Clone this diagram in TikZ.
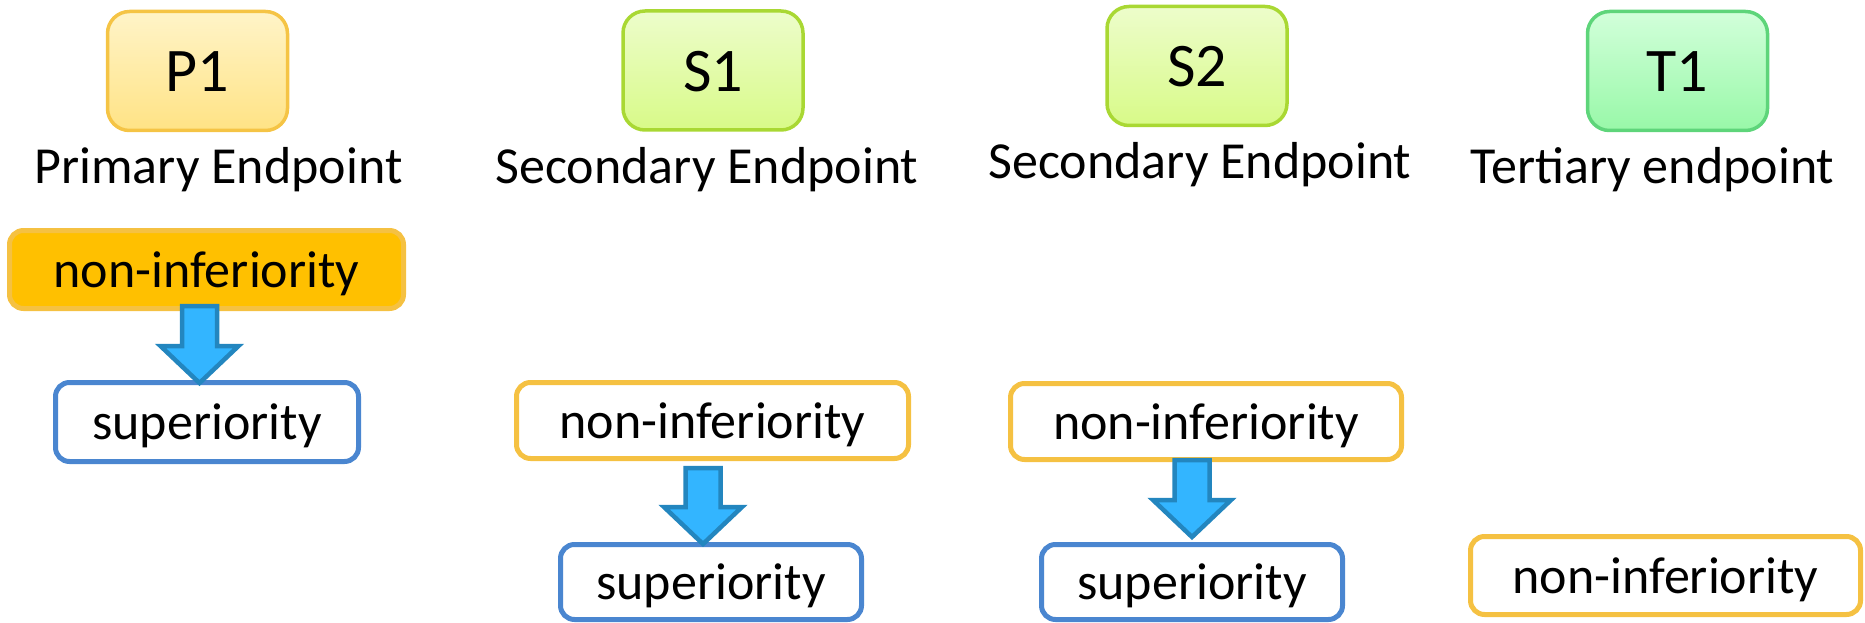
\documentclass[tikz,border=0pt]{standalone}
\usepackage{fontspec}
\setmainfont{Carlito}
\usetikzlibrary{calc}

% palette
\definecolor{pTop}{HTML}{FFF4C8}
\definecolor{pBot}{HTML}{FFE385}
\definecolor{pLine}{HTML}{F5C445}
\definecolor{sTop}{HTML}{EDFDCB}
\definecolor{sBot}{HTML}{D8FA88}
\definecolor{sLine}{HTML}{A9D833}
\definecolor{tTop}{HTML}{D2FFDA}
\definecolor{tBot}{HTML}{98F8A8}
\definecolor{tLine}{HTML}{5ED57A}
\definecolor{niLine}{HTML}{F5C142}
\definecolor{niFill}{HTML}{FFC000}
\definecolor{supLine}{HTML}{4A86D0}
\definecolor{arrFill}{HTML}{33B5FF}
\definecolor{arrLine}{HTML}{2386BF}

\tikzset{
  endbox/.style={rounded corners=22pt, line width=3.5pt, inner sep=0pt,
    minimum width=180pt, minimum height=119pt,
    font=\fontsize{62}{70}\selectfont, text height=42pt, text depth=0pt},
  pbox/.style={endbox, draw=pLine, top color=pTop, bottom color=pBot},
  sbox/.style={endbox, draw=sLine, top color=sTop, bottom color=sBot},
  tbox/.style={endbox, draw=tLine, top color=tTop, bottom color=tBot},
  caption/.style={anchor=base, inner sep=0pt, font=\fontsize{52}{60}\selectfont},
  testbox/.style={rounded corners=14pt, line width=5pt, inner sep=0pt,
    font=\fontsize{52}{60}\selectfont, text height=35pt, text depth=0pt},
  nibox/.style={testbox, draw=niLine, fill=white},
  nifilled/.style={testbox, draw=niLine, fill=niFill},
  supbox/.style={testbox, draw=supLine, fill=white},
  blockarrow/.style={fill=arrFill, draw=arrLine, line width=4.5pt, line join=miter},
}

% block arrow pointing down from #1 (top of shaft) to #2 (tip)
\newcommand\downblock[2]{%
  \filldraw[blockarrow] let \p1=(#1), \p2=(#2) in
    (\x1-17.5pt,\y1) -- (\x1+17.5pt,\y1) -- (\x1+17.5pt,\y2+37pt)
    -- (\x1+39pt,\y2+37pt) -- (\x2,\y2) -- (\x1-39pt,\y2+37pt)
    -- (\x1-17.5pt,\y2+37pt) -- cycle;}

\begin{document}
\begin{tikzpicture}[x=1pt, y=-1pt]
  \useasboundingbox (0,0) rectangle (1865,623);

  % endpoint headers
  \node[pbox] (P1) at (197.5,71) {P1};
  \node[sbox] (S1) at (713,70.5) {S1};
  \node[sbox] (S2) at (1197,66) {S2};
  \node[tbox] (T1) at (1677.5,71) {T1};

  \node[caption] (capP) at (218.5,183) {Primary Endpoint};
  \node[caption] (capS1) at (707,183) {Secondary Endpoint};
  \node[caption] (capS2) at (1200,178) {Secondary Endpoint};
  \node[caption] (capT) at (1652.5,183) {Tertiary endpoint};

  % hypothesis boxes
  \node[nifilled, minimum width=394pt, minimum height=78pt] (niP) at (206.5,269.5) {non-inferiority};
  \node[supbox, minimum width=303pt, minimum height=79pt] (supP) at (207,422) {superiority};

  \node[nibox, minimum width=392pt, minimum height=76pt] (niS1) at (712.5,420.5) {non-inferiority};
  \node[supbox, minimum width=301pt, minimum height=75pt] (supS1) at (711,582) {superiority};

  \node[nibox, minimum width=391pt, minimum height=76pt] (niS2) at (1206,421.5) {non-inferiority};
  \node[supbox, minimum width=301pt, minimum height=75pt] (supS2) at (1192,582) {superiority};

  \node[nibox, minimum width=390pt, minimum height=78pt] (niT) at (1665.5,575.5) {non-inferiority};

  % arrows from non-inferiority to superiority
  \coordinate (aP1) at (199.5,306);
  \coordinate (aP2) at (199.5,383);
  \coordinate (aS1a) at (703,468);
  \coordinate (aS1b) at (703,544);
  \coordinate (aS2a) at (1192,460);
  \coordinate (aS2b) at (1192,537);
  \downblock{aP1}{aP2}
  \downblock{aS1a}{aS1b}
  \downblock{aS2a}{aS2b}
\end{tikzpicture}
\end{document}
